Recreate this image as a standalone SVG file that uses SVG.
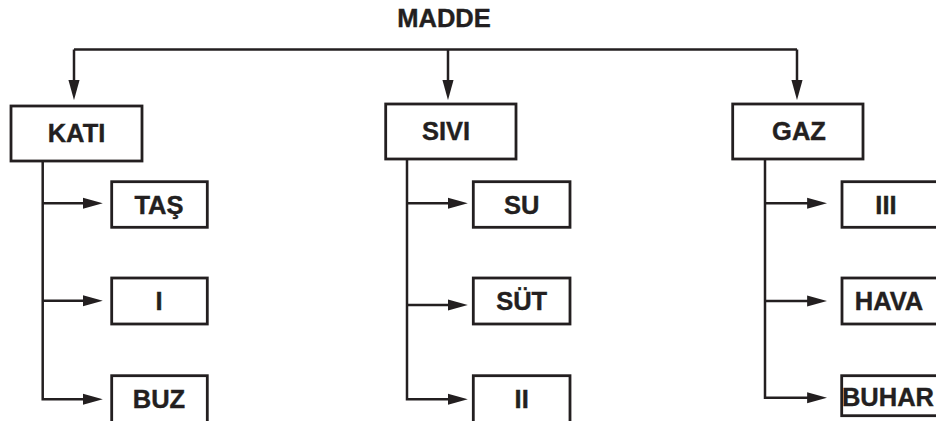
<svg xmlns="http://www.w3.org/2000/svg" width="936" height="421" viewBox="0 0 936 421">
<style>
.box{fill:#fff;stroke:#231f20;stroke-width:2.8}
.lbl{font-family:"Liberation Sans",Arial,sans-serif;font-weight:bold;font-size:25.5px;fill:#231f20;stroke:#231f20;stroke-width:0.4;text-anchor:middle}
.ln{fill:none;stroke:#231f20;stroke-width:2.5}
</style>
<defs>
<marker id="ah" markerUnits="userSpaceOnUse" markerWidth="20" markerHeight="12" viewBox="0 0 18 10" refX="8" refY="5" orient="auto">
<path d="M0,0 L18,5 L0,10 Z" fill="#231f20"/>
</marker>
</defs>
<rect width="936" height="421" fill="#fff"/>
<g id="connectors">
<path class="ln" d="M74,49.5 H797"/>
<path class="ln" d="M74,49.5 V89" marker-end="url(#ah)"/>
<path class="ln" d="M448,49.5 V89" marker-end="url(#ah)"/>
<path class="ln" d="M797,49.5 V89" marker-end="url(#ah)"/>
<path class="ln" d="M42.7,161 V399.3 H91.7" marker-end="url(#ah)"/>
<path class="ln" d="M42.7,203.3 H91.7" marker-end="url(#ah)"/>
<path class="ln" d="M42.7,300.7 H91.7" marker-end="url(#ah)"/>
<path class="ln" d="M407,159 V399.3 H456.7" marker-end="url(#ah)"/>
<path class="ln" d="M407,203.3 H456.7" marker-end="url(#ah)"/>
<path class="ln" d="M407,305 H456.7" marker-end="url(#ah)"/>
<path class="ln" d="M765,159 V397.7 H816" marker-end="url(#ah)"/>
<path class="ln" d="M765,203.3 H816" marker-end="url(#ah)"/>
<path class="ln" d="M765,301 H816" marker-end="url(#ah)"/>
</g>
<g id="madde"><text class="lbl" x="444" y="26.7">MADDE</text></g>
<g id="kati"><rect class="box" x="11" y="106" width="131" height="55"/><text class="lbl" x="76.5" y="142">KATI</text></g>
<g id="sivi"><rect class="box" x="385.7" y="104" width="130.3" height="55"/><text class="lbl" x="446" y="140">SIVI</text></g>
<g id="gaz"><rect class="box" x="732.7" y="104" width="130.3" height="55"/><text class="lbl" x="799" y="140">GAZ</text></g>
<g id="tas"><rect class="box" x="111.7" y="181.7" width="95.6" height="45.6"/><text class="lbl" x="159" y="214">TAŞ</text></g>
<g id="i"><rect class="box" x="111.7" y="278" width="95.6" height="46"/><text class="lbl" x="159" y="310">I</text></g>
<g id="buz"><rect class="box" x="111.7" y="375.7" width="95.6" height="50"/><text class="lbl" x="159" y="408">BUZ</text></g>
<g id="su"><rect class="box" x="473.3" y="181.7" width="96.7" height="45.6"/><text class="lbl" x="521.7" y="214">SU</text></g>
<g id="sut"><rect class="box" x="473.3" y="278" width="96.7" height="46"/><text class="lbl" x="521.7" y="310">SÜT</text></g>
<g id="ii"><rect class="box" x="473.3" y="375.7" width="96.7" height="50"/><text class="lbl" x="521.7" y="408">II</text></g>
<g id="iii"><rect class="box" x="842" y="181.7" width="110" height="45.6"/><text class="lbl" x="886" y="214">III</text></g>
<g id="hava"><rect class="box" x="842" y="278" width="110" height="46"/><text class="lbl" x="889" y="310">HAVA</text></g>
<g id="buhar"><rect class="box" x="841.7" y="375.7" width="110" height="40"/><text class="lbl" x="888" y="406">BUHAR</text></g>
</svg>
